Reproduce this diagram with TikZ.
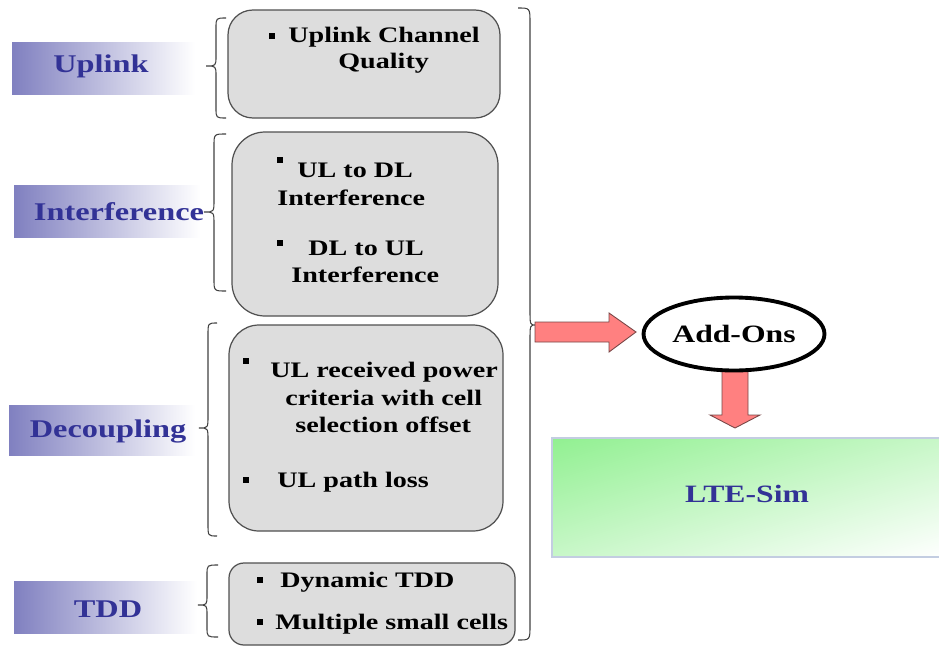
\documentclass[tikz,border=0pt]{standalone}
\usepackage{fontspec}
\setmainfont{Liberation Serif}[FakeStretch=1.27]
\usetikzlibrary{shapes.geometric,calc,shadings}
\definecolor{lblblue}{RGB}{50,50,150}
\definecolor{lblshade}{RGB}{128,128,192}
\definecolor{lblmid}{RGB}{200,200,228}
\definecolor{boxgray}{RGB}{221,221,221}
\definecolor{boxedge}{RGB}{80,80,80}
\definecolor{arrowred}{RGB}{255,128,128}
\definecolor{arrowedge}{RGB}{120,70,70}
\definecolor{ltegreen}{RGB}{145,240,145}
\definecolor{ltemid}{RGB}{200,247,200}
\definecolor{lteedge}{RGB}{195,205,225}
\begin{document}
\begin{tikzpicture}[x=0.02cm,y=-0.02cm,
  lbltext/.style={font=\fontsize{14.5}{17}\selectfont\bfseries, text=lblblue, anchor=base, inner sep=0pt},
  itemtext/.style={font=\fontsize{12.6}{15}\selectfont\bfseries, anchor=base west, inner sep=0pt},
  bul/.style={fill=black, minimum size=3.4pt, inner sep=0pt},
  graybox/.style={draw=boxedge, fill=boxgray, line width=0.7pt},
  bracepath/.style={draw=black!75, line width=0.6pt},
  blockarrow/.style={fill=arrowred, draw=arrowedge, line width=0.5pt},
  lblbox/.style={left color=lblshade, middle color=lblmid, right color=white}
]
\useasboundingbox (0,0) rectangle (939,649);

% label boxes
\shade[lblbox] (12,42) rectangle (195,94);
\shade[lblbox] (14,185) rectangle (200,237);
\shade[lblbox] (9,405) rectangle (195,455);
\shade[lblbox] (14,581) rectangle (197,633);
\node[lbltext] (luplink) at (101,72) {Uplink};
\node[lbltext] (linterf) at (119,220) {Interference};
\node[lbltext] (ldecoup) at (108,437) {Decoupling};
\node[lbltext] (ltdd) at (108,617) {TDD};

% left braces
\draw[bracepath] (226,18) .. controls (216,18) .. (216,28) -- (216,56) .. controls (216,66) .. (206,66) .. controls (216,66) .. (216,76) -- (216,108) .. controls (216,118) .. (226,118);
\draw[bracepath] (226,134) .. controls (214,134) .. (214,146) -- (214,200) .. controls (214,212) .. (204,212) .. controls (214,212) .. (214,224) -- (214,279) .. controls (214,291) .. (226,291);
\draw[bracepath] (217,323) .. controls (208,323) .. (208,335) -- (208,416) .. controls (208,428) .. (199,428) .. controls (208,428) .. (208,440) -- (208,524) .. controls (208,536) .. (217,536);
\draw[bracepath] (218,565) .. controls (207,565) .. (207,575) -- (207,595) .. controls (207,605) .. (198,605) .. controls (207,605) .. (207,615) -- (207,627) .. controls (207,637) .. (218,637);

% gray boxes
\draw[graybox, rounded corners=0.5cm] (228,10) rectangle (500,118);
\draw[graybox, rounded corners=0.66cm] (232,132) rectangle (498,316);
\draw[graybox, rounded corners=0.6cm] (229,325) rectangle (503,531);
\draw[graybox, rounded corners=0.3cm] (229,563) rectangle (515,645);

% items
\node[bul] (b1) at (272,36) {};
\node[itemtext] (t1a) at (288,42) {Uplink Channel};
\node[itemtext] (t1b) at (338,68) {Quality};
\node[bul] (b2) at (280,160) {};
\node[itemtext] (t2a) at (297,177) {UL to DL};
\node[itemtext] (t2b) at (277,205) {Interference};
\node[bul] (b3) at (280,243) {};
\node[itemtext] (t2c) at (308,255) {DL to UL};
\node[itemtext] (t2d) at (291,282) {Interference};
\node[bul] (b4) at (246,361) {};
\node[itemtext] (t3a) at (270,377) {UL received power};
\node[itemtext] (t3b) at (285,405) {criteria with cell};
\node[itemtext] (t3c) at (295,432) {selection offset};
\node[bul] (b5) at (246,480) {};
\node[itemtext] (t3d) at (277,487) {UL path loss};
\node[bul] (b6) at (260,580) {};
\node[itemtext] (t4a) at (280,587) {Dynamic TDD};
\node[bul] (b7) at (260,622) {};
\node[itemtext] (t4b) at (275,629) {Multiple small cells};

% big brace
\draw[bracepath] (518,8) .. controls (530,8) .. (530,23) -- (530,310) .. controls (530,325) .. (536,325) .. controls (530,325) .. (530,340) -- (530,625) .. controls (530,640) .. (518,640);
\coordinate (bt) at (536,325);

% LTE-Sim box
\shade[upper left=ltegreen, upper right=ltemid, lower left=ltemid, lower right=white] (552,438) rectangle (945,557);
\draw[draw=lteedge, line width=1.2pt] (552,438) rectangle (945,557);
\node[lbltext, font=\fontsize{14.2}{17}\selectfont\bfseries] (lte) at (747,502) {LTE-Sim};

% arrows
\draw[blockarrow] (535,322) -- (609,322) -- (609,313) -- (636,332) -- (609,352) -- (609,342) -- (535,342) -- cycle;
\draw[blockarrow] (722,368) -- (748,368) -- (748,415) -- (760,415) -- (735,428) -- (710,415) -- (722,415) -- cycle;

% Add-Ons ellipse
\node[ellipse, draw=black, line width=2.2pt, fill=white, minimum width=3.62cm, minimum height=1.46cm, inner sep=0pt, font=\fontsize{14.2}{17}\selectfont\bfseries] (addons) at (734,334) {Add-Ons};
\end{tikzpicture}
\end{document}
